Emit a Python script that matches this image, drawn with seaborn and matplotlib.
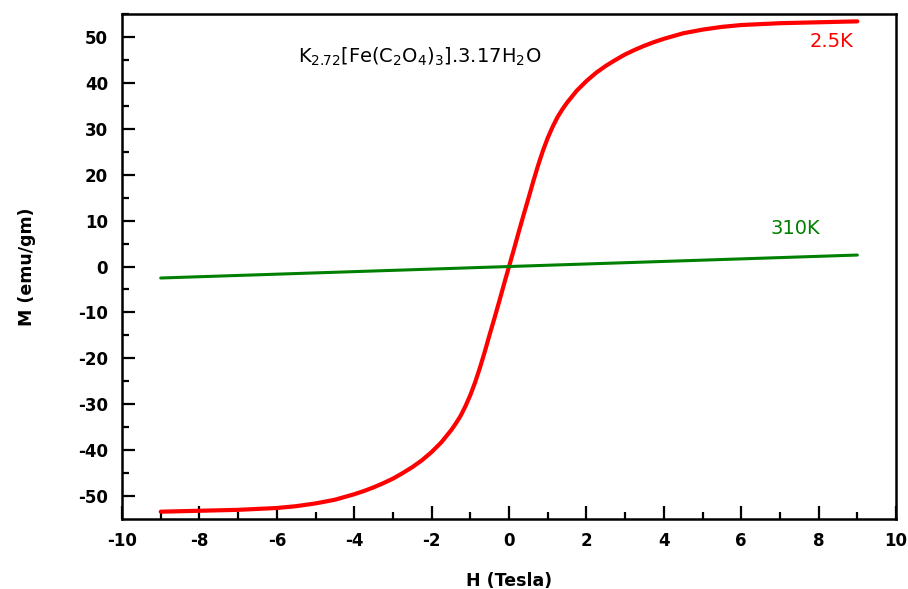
import matplotlib
matplotlib.use("Agg")
import matplotlib.pyplot as plt
import numpy as np
import pandas as pd
import seaborn as sns

# field (Tesla) and magnetisation (emu/gm)
h_pos = [0, 0.125, 0.25, 0.375, 0.5, 0.625, 0.75, 0.875, 1.0, 1.125, 1.25, 1.375, 1.5,
         1.75, 2.0, 2.25, 2.5, 2.75, 3.0, 3.25, 3.5, 3.75, 4.0, 4.5, 5.0, 5.5, 6.0, 7.0, 8.0, 9.0]
m_pos = [0, 3.7, 7.5, 11.2, 14.8, 18.5, 22.0, 25.2, 28.0, 30.4, 32.5, 34.2, 35.7,
         38.3, 40.4, 42.2, 43.7, 45.0, 46.2, 47.2, 48.1, 48.9, 49.6, 50.8, 51.6, 52.2, 52.6, 53.0, 53.2, 53.4]
h_25k = [-h for h in h_pos[:0:-1]] + h_pos
m_25k = [-m for m in m_pos[:0:-1]] + m_pos
h_310k = [-9, -4.5, 0, 4.5, 9]
m_310k = [-2.5, -1.25, 0, 1.25, 2.5]

df = pd.concat([
    pd.DataFrame({"H": h_25k, "M": m_25k, "T": "2.5K"}),
    pd.DataFrame({"H": h_310k, "M": m_310k, "T": "310K"}),
])

sns.set_style("ticks")
plt.rcParams["font.family"] = ["DejaVu Sans"]
plt.rcParams["axes.unicode_minus"] = False
plt.rcParams["text.color"] = "black"
plt.rcParams["axes.labelcolor"] = "black"
plt.rcParams["xtick.color"] = "black"
plt.rcParams["ytick.color"] = "black"

fig = plt.figure(figsize=(9.08, 5.89), dpi=100)
ax = fig.add_axes([0.1344, 0.1188, 0.8524, 0.8574])

sns.lineplot(data=df[df["T"] == "2.5K"], x="H", y="M", color="#ff0000", lw=3, ax=ax,
             sort=False, estimator=None)
sns.lineplot(data=df[df["T"] == "310K"], x="H", y="M", color="#008000", lw=2.2, ax=ax,
             sort=False, estimator=None)

ax.set_xlim(-10, 10)
ax.set_ylim(-55, 55)
ax.set_xticks(np.arange(-10, 11, 2))
ax.set_xticks(np.arange(-9, 10, 2), minor=True)
ax.set_yticks(np.arange(-50, 51, 10))
ax.set_yticks(np.arange(-45, 56, 10), minor=True)

ax.tick_params(which="major", direction="in", length=9.5, width=1.6, labelsize=12)
ax.tick_params(axis="x", which="major", pad=9)
ax.tick_params(axis="y", which="major", pad=10)
ax.tick_params(which="minor", direction="in", length=5, width=1.6)
for lab in ax.get_xticklabels() + ax.get_yticklabels():
    lab.set_fontweight("bold")
for s in ax.spines.values():
    s.set_linewidth(1.8)
    s.set_color("black")

ax.set_xlabel("H (Tesla)", fontsize=12.5, fontweight="bold", labelpad=16)
ax.set_ylabel("M (emu/gm)", fontsize=12.5, fontweight="bold", labelpad=30)

ax.text(-5.45, 45.6, r"K$_{2.72}$[Fe(C$_2$O$_4$)$_3$].3.17$\mathregular{H_2O}$", fontsize=14,
        va="center", ha="left")
ax.text(8.32, 49.1, "2.5K", color="#ff0000", fontsize=14, ha="center", va="center")
ax.text(7.41, 8.2, "310K", color="#008000", fontsize=14, ha="center", va="center")

fig.savefig("out.png", dpi=100)
